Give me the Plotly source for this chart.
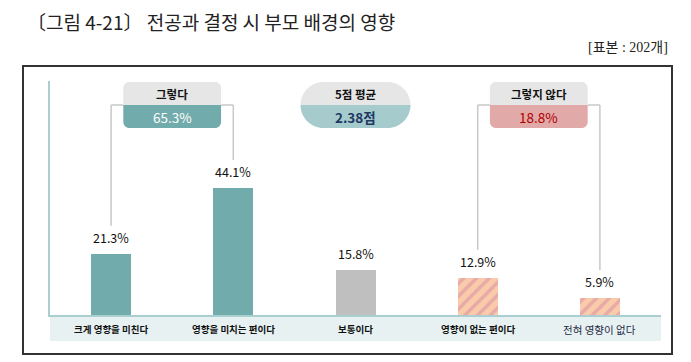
import plotly.graph_objects as go

# ---- data ----
categories = ["크게 영향을 미친다", "영향을 미치는 편이다", "보통이다", "영향이 없는 편이다", "전혀 영향이 없다"]
values = [21.3, 44.1, 15.8, 12.9, 5.9]
value_labels = ["21.3%", "44.1%", "15.8%", "12.9%", "5.9%"]
summary_titles = ["그렇다", "5점 평균", "그렇지 않다"]
summary_values = ["65.3%", "2.38점", "18.8%"]
summary_pos = [0.5, 2.0, 3.5]
title_text = "〔그림 4-21〕 전공과 결정 시 부모 배경의 영향"
sample_text = "[표본 : 202개]"

# ---- styling ----
W, H = 691, 362
ML, MR, MT, MB = 50, 30, 81, 47
YMAX = 81.25
PW = W - ML - MR
PH = H - MT - MB
XU = PW / 5.0          # px per category unit
YU = PH / YMAX         # px per data unit

TEAL = "#72abab"
GRAY = "#bfbfbf"
PEACH = "#f9cbab"
STRIPE = "#e8aaa6"
bar_colors = [TEAL, TEAL, GRAY, PEACH, PEACH]
hatched = [3, 4]
FONT = "Noto Sans CJK KR"

fig = go.Figure()
fig.add_trace(go.Bar(
    x=list(range(len(categories))), y=values, width=40 / XU,
    marker=dict(color=bar_colors, line=dict(width=0)),
    hoverinfo="skip", showlegend=False,
))
fig.add_trace(go.Bar(
    x=hatched, y=[values[i] for i in hatched], width=40 / XU,
    marker=dict(color=STRIPE, line=dict(width=0),
                pattern=dict(shape="/", bgcolor="rgba(0,0,0,0)", fgopacity=1,
                             size=9, solidity=0.4, fillmode="replace")),
    hoverinfo="skip", showlegend=False,
))

shapes = []
annotations = []

# value labels
for i, (v, t) in enumerate(zip(values, value_labels)):
    annotations.append(dict(x=i, y=v, xref="x", yref="y", text=t, showarrow=False,
                            yanchor="bottom", yshift=5,
                            font=dict(family=FONT, size=12.5, color="#111")))

# category band + labels
shapes.append(dict(type="rect", xref="x", yref="paper", x0=-0.5 - 2 / XU, x1=4.5 + 1 / XU,
                   y0=-2 / PH, y1=-26 / PH, fillcolor="#e7f1f2", line=dict(width=0),
                   layer="below"))
for i, c in enumerate(categories):
    bold = i < 4
    annotations.append(dict(x=i, y=-14 / PH, xref="x", yref="paper",
                            text=f"<b>{c}</b>" if bold else c, showarrow=False,
                            yanchor="middle",
                            font=dict(family=FONT, size=9.5 if bold else 10.5,
                                      color="#111" if bold else "#1f2a44")))

K = 0.5523


def half_path(x0, x1, ya, yb, rx, ry, top):
    # ya: flat edge, yb: rounded edge
    if top:
        return (f"M {x0},{ya} L {x0},{yb - ry} "
                f"C {x0},{yb - ry + K * ry} {x0 + rx - K * rx},{yb} {x0 + rx},{yb} "
                f"L {x1 - rx},{yb} "
                f"C {x1 - rx + K * rx},{yb} {x1},{yb - ry + K * ry} {x1},{yb - ry} "
                f"L {x1},{ya} Z")
    return (f"M {x0},{ya} L {x0},{yb + ry} "
            f"C {x0},{yb + ry - K * ry} {x0 + rx - K * rx},{yb} {x0 + rx},{yb} "
            f"L {x1 - rx},{yb} "
            f"C {x1 - rx + K * rx},{yb} {x1},{yb + ry - K * ry} {x1},{yb + ry} "
            f"L {x1},{ya} Z")


y_top = (PH - (82 - MT)) / YU
y_mid = (PH - (105 - MT)) / YU
y_bot = (PH - (128 - MT)) / YU
box_specs = [
    dict(hw=0.4, r=6, bot="#72abab", vcol="#ffffff", vbold=False),
    dict(hw=0.45, r=23, bot="#a6cbcc", vcol="#1f3864", vbold=True),
    dict(hw=0.4, r=6, bot="#e1a9a8", vcol="#b00000", vbold=False),
]
for cx, spec, t1, t2 in zip(summary_pos, box_specs, summary_titles, summary_values):
    x0, x1 = cx - spec["hw"], cx + spec["hw"]
    rx, ry = spec["r"] / XU, spec["r"] / YU
    shapes.append(dict(type="path", xref="x", yref="y",
                       path=half_path(x0, x1, y_mid, y_top, rx, ry, True),
                       fillcolor="#e6e6e6", line=dict(width=0)))
    shapes.append(dict(type="path", xref="x", yref="y",
                       path=half_path(x0, x1, y_mid, y_bot, rx, ry, False),
                       fillcolor=spec["bot"], line=dict(width=0)))
    annotations.append(dict(x=cx, y=(y_top + y_mid) / 2, xref="x", yref="y",
                            text=f"<b>{t1}</b>", showarrow=False, yanchor="middle",
                            font=dict(family=FONT, size=11.5, color="#111")))
    annotations.append(dict(x=cx, y=(y_mid + y_bot) / 2, xref="x", yref="y",
                            text=f"<b>{t2}</b>" if spec["vbold"] else t2,
                            showarrow=False, yanchor="middle",
                            font=dict(family=FONT, size=13.5, color=spec["vcol"])))

# brackets
BR = "#c8c8c8"
gap = 28 / YU
for cx, (a, b) in [(0.5, (0, 1)), (3.5, (3, 4))]:
    for idx, edge in [(a, cx - 0.4), (b, cx + 0.4)]:
        shapes.append(dict(type="line", xref="x", yref="y", x0=idx, x1=idx,
                           y0=y_mid, y1=values[idx] + gap,
                           line=dict(color=BR, width=1.5)))
        shapes.append(dict(type="line", xref="x", yref="y", x0=idx, x1=edge,
                           y0=y_mid, y1=y_mid, line=dict(color=BR, width=1.5),
                           layer="below"))

# outer frame
shapes.append(dict(type="rect", xref="paper", yref="paper",
                   x0=(23 - ML) / PW, x1=(672 - ML) / PW,
                   y0=(PH - (354 - MT)) / PH, y1=(PH - (66 - MT)) / PH,
                   line=dict(color="#333333", width=2), fillcolor="rgba(0,0,0,0)"))

# titles
annotations.append(dict(x=(25 - ML) / PW, y=(PH - (21 - MT)) / PH, xref="paper", yref="paper",
                        text=title_text, showarrow=False, xanchor="left", yanchor="middle",
                        font=dict(family=FONT, size=19, color="#222")))
annotations.append(dict(x=(670 - ML) / PW, y=(PH - (47 - MT)) / PH, xref="paper", yref="paper",
                        text=sample_text, showarrow=False, xanchor="right", yanchor="middle",
                        font=dict(family="Liberation Serif, Noto Sans CJK KR", size=14,
                                  color="#222")))

fig.update_layout(
    width=W, height=H, margin=dict(l=ML, r=MR, t=MT, b=MB),
    paper_bgcolor="white", plot_bgcolor="white",
    shapes=shapes, annotations=annotations, barmode="overlay", bargap=0,
    xaxis=dict(range=[-0.5, 4.5], showticklabels=False, ticks="", showgrid=False,
               zeroline=False, showline=True, linecolor="#a9cfd0", linewidth=2,
               fixedrange=True),
    yaxis=dict(range=[0, YMAX], showticklabels=False, ticks="", showgrid=False,
               zeroline=False, showline=True, linecolor="#a9cfd0", linewidth=2,
               fixedrange=True),
)
fig.write_html("out.html", config={"displayModeBar": False},
               post_script="document.body.style.margin='0px';document.body.style.overflow='hidden';")
